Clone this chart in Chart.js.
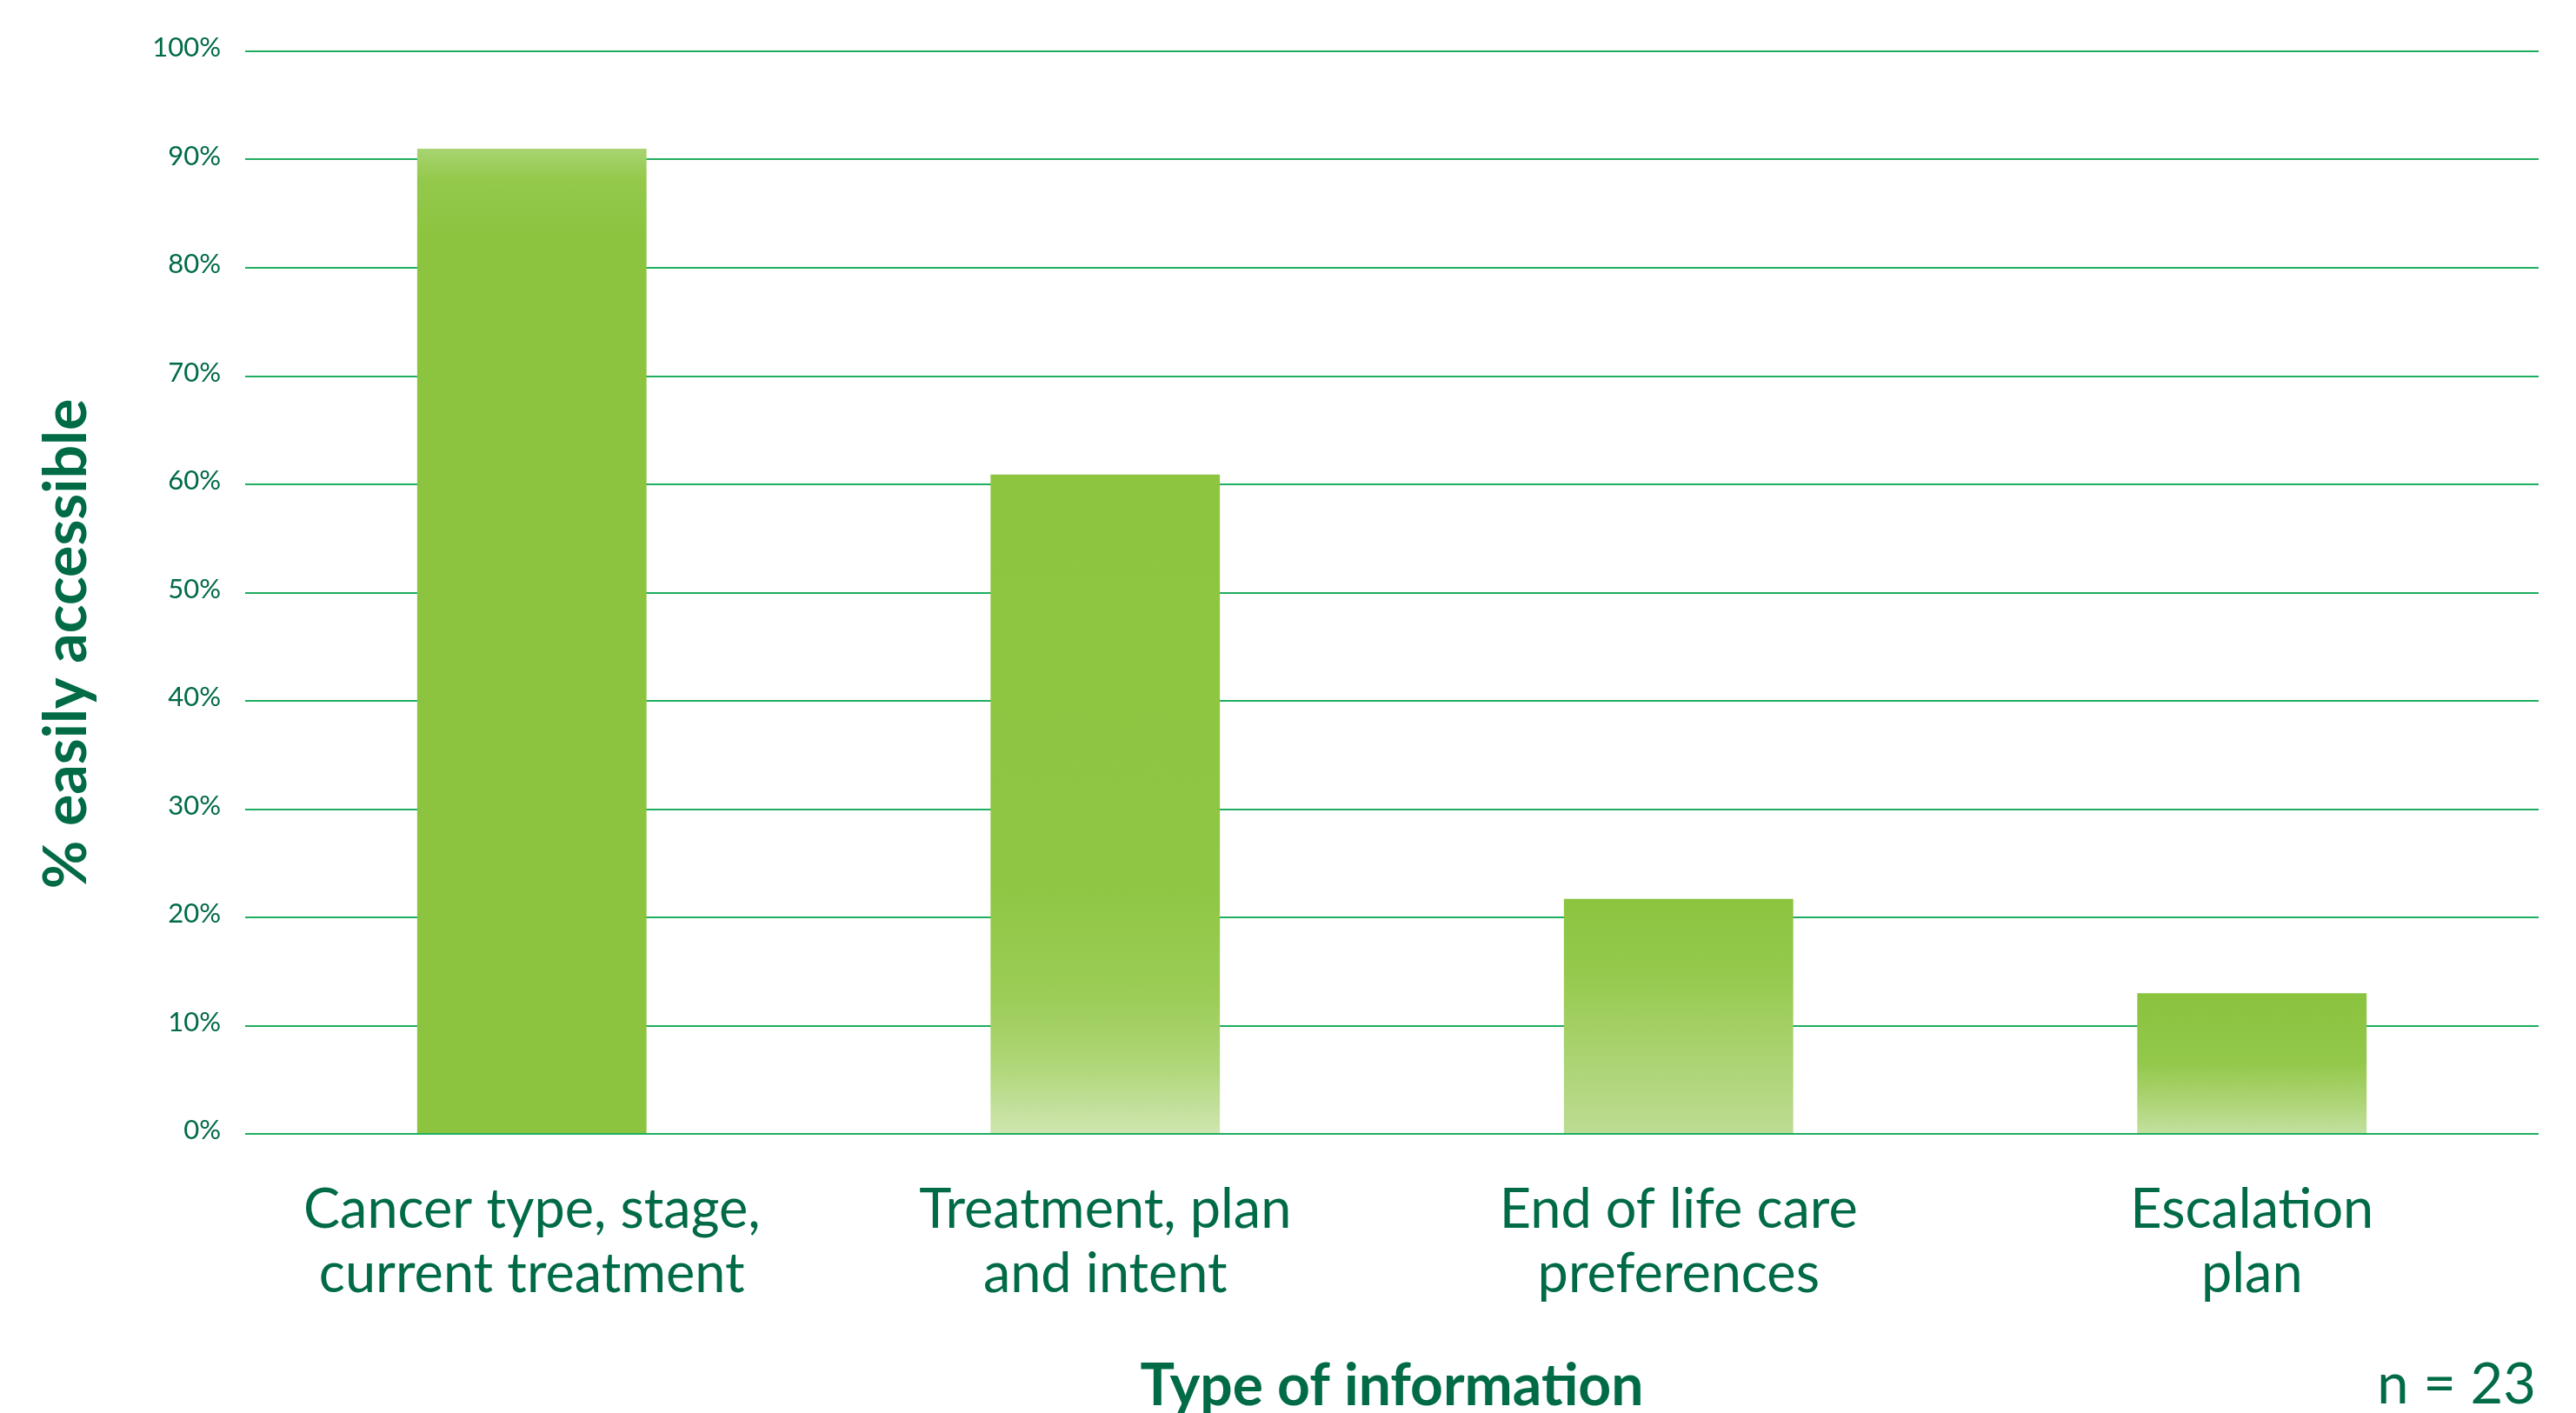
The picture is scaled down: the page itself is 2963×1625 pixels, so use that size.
<!DOCTYPE html>
<html>
<head>
<meta charset="utf-8">
<style>
  html, body { margin: 0; padding: 0; background: #fff; }
  #wrap { width: 2963px; height: 1625px; }
</style>
<script src="https://cdn.jsdelivr.net/npm/chart.js"></script>
</head>
<body>
<div id="wrap"><canvas id="chart" width="2963" height="1625"></canvas></div>
<script>
// data (n = 23)
const categories = [
  ['Cancer type, stage,', 'current treatment'],
  ['Treatment, plan', 'and intent'],
  ['End of life care', 'preferences'],
  ['Escalation', 'plan']
];
const easilyAccessible = [91.0, 60.9, 21.7, 13.0];
const yTicks = [0, 10, 20, 30, 40, 50, 60, 70, 80, 90, 100];

const TEXT = '#006b45';
const GRID = '#1fae5f';
const FONT = 'Lato, "Open Sans", sans-serif';

// light patches of the painted bars, top -> bottom
const barStops = [
  [[0, '#a8d472'], [0.03, '#94c94c'], [0.09, '#8cc43f'], [1, '#8cc43f']],
  [[0, '#8dc540'], [0.62, '#8fc643'], [0.8, '#9ccd58'], [0.9, '#b0d77a'], [1, '#cfe6b0']],
  [[0, '#8cc43f'], [0.3, '#94c94c'], [0.55, '#a3d064'], [1, '#bddc94']],
  [[0, '#8ac33e'], [0.5, '#93c84b'], [0.72, '#a8d26d'], [1, '#c3e0a0']]
];

function barFill(ctx) {
  const chart = ctx.chart;
  const y = chart.scales.y;
  if (!chart.chartArea || !y || ctx.type !== 'data') return '#8cc43f';
  const top = y.getPixelForValue(ctx.raw);
  const bottom = y.getPixelForValue(0);
  const g = chart.ctx.createLinearGradient(0, top, 0, bottom);
  barStops[ctx.dataIndex].forEach(s => g.addColorStop(s[0], s[1]));
  return g;
}

const extraText = {
  id: 'extraText',
  afterDraw(chart) {
    const c = chart.ctx;
    const area = chart.chartArea;
    c.save();
    c.fillStyle = TEXT;
    // y-axis title, sits a little below the middle of the axis
    c.translate(77, (area.top + area.bottom) / 2 + 59);
    c.rotate(-Math.PI / 2);
    c.font = 'bold 68px ' + FONT;
    c.textAlign = 'center';
    c.textBaseline = 'middle';
    c.fillText('% easily accessible', 0, 0);
    c.restore();

    c.save();
    c.fillStyle = TEXT;
    c.font = '65px ' + FONT;
    c.textAlign = 'right';
    c.textBaseline = 'alphabetic';
    c.fillText('n = 23', area.right - 3, 1614);
    c.restore();
  }
};

new Chart(document.getElementById('chart'), {
  type: 'bar',
  data: {
    labels: categories,
    datasets: [{
      label: '% easily accessible',
      data: easilyAccessible,
      backgroundColor: barFill,
      borderWidth: 0,
      barPercentage: 0.4,
      categoryPercentage: 1
    }]
  },
  options: {
    responsive: false,
    animation: false,
    layout: { padding: { top: 59, right: 43, left: 0, bottom: 0 } },
    plugins: {
      legend: { display: false },
      tooltip: { enabled: false }
    },
    scales: {
      x: {
        grid: { display: false, drawTicks: false },
        border: { display: false },
        ticks: {
          color: TEXT,
          padding: 51,
          maxRotation: 0,
          autoSkip: false,
          font: { family: FONT, size: 63, lineHeight: 1.175 }
        },
        title: {
          display: true,
          text: 'Type of information',
          color: TEXT,
          font: { family: FONT, size: 66, weight: 'bold', lineHeight: 0.9 },
          padding: { top: 0, bottom: 1 }
        },
        afterFit(scale) { scale.height = 321; }
      },
      y: {
        min: 0,
        max: 100,
        afterBuildTicks(scale) { scale.ticks = yTicks.map(v => ({ value: v })); },
        grid: { color: GRID, lineWidth: 2, drawTicks: false },
        border: { display: false },
        ticks: {
          color: TEXT,
          padding: 28,
          labelOffset: -4,
          font: { family: FONT, size: 31 },
          callback: v => v + '%'
        },
        afterFit(scale) { scale.width = 282; }
      }
    }
  },
  plugins: [extraText]
});
</script>
</body>
</html>
